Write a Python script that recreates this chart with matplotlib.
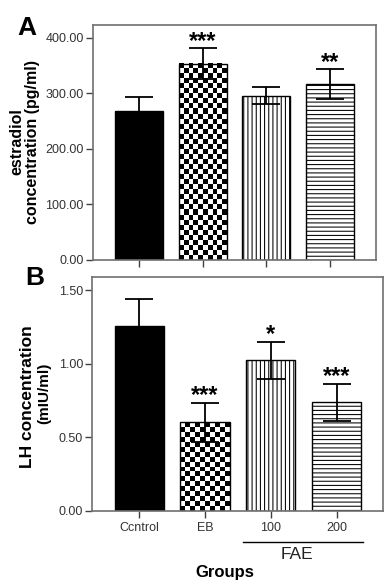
import numpy as np
import matplotlib.pyplot as plt
from matplotlib.transforms import blended_transform_factory

plt.rcParams['font.family'] = ['Liberation Sans', 'DejaVu Sans']
plt.rcParams['hatch.linewidth'] = 0.75

# values
groups = ['Ccntrol', 'EB', '100', '200']
e2_mean = [269, 353, 296, 316]
e2_err = [25, 28, 15, 27]
e2_stars = ['', '***', '', '**']
lh_mean = [1.256, 0.602, 1.023, 0.738]
lh_err = [0.185, 0.133, 0.125, 0.126]
lh_stars = ['', '***', '*', '***']

e2_ticks = [0, 100, 200, 300, 400]
lh_ticks = [0, 0.5, 1.0, 1.5]

fills = ['solid', 'checker', '||||', '----']


def checker_fill(ax, bar, cell=5):
    '''
    Fills a bar with a black/white checkerboard, cells of about `cell` pixels
    '''
    x0, y0 = bar.get_x(), bar.get_y()
    x1, y1 = x0 + bar.get_width(), y0 + bar.get_height()
    p0 = ax.transData.transform((x0, y0))
    p1 = ax.transData.transform((x1, y1))
    nx = max(1, int(round(abs(p1[0] - p0[0]) / cell)))
    ny = max(1, int(round(abs(p1[1] - p0[1]) / cell)))
    board = np.indices((ny, nx)).sum(axis=0) % 2
    ax.imshow(board, cmap='gray', extent=(x0, x1, y0, y1), origin='lower',
              aspect='auto', interpolation='nearest', zorder=1.5)


def draw_panel(ax, means, errs, stars, ticks, ylim, xlim):
    x = np.arange(len(means))
    ax.set_xlim(*xlim)
    ax.set_ylim(*ylim)
    bars = ax.bar(x, means, width=0.75, color='white', edgecolor='black',
                  linewidth=1.0, zorder=2)
    for bar, f in zip(bars, fills):
        if f == 'solid':
            bar.set_facecolor('black')
        elif f == 'checker':
            bar.set_facecolor('none')
            checker_fill(ax, bar)
        else:
            bar.set_hatch(f)
    ax.set_xlim(*xlim)
    ax.set_ylim(*ylim)
    ax.errorbar(x, means, yerr=errs, fmt='none', ecolor='black',
                elinewidth=1.3, capsize=10, capthick=1.3, zorder=3)
    for i, s in enumerate(stars):
        if s:
            ax.annotate(s, (x[i], means[i] + errs[i]), xytext=(0, 0.5),
                        textcoords='offset points', ha='center', va='baseline',
                        fontsize=17, fontweight='bold', annotation_clip=False)
    ax.set_xticks(x)
    ax.set_yticks(ticks)
    ax.set_yticklabels(['%.2f' % t for t in ticks])
    for sp in ax.spines.values():
        sp.set_color('#707070')
        sp.set_linewidth(1.2)
    ax.tick_params(direction='out', length=5, width=1, color='#404040',
                   labelsize=9, labelcolor='#333333')
    ax.tick_params(axis='y', pad=1.5)
    return x


fig = plt.figure(figsize=(3.9, 5.87), dpi=100)
ax_a = fig.add_axes([0.2377, 0.5571, 0.7264, 0.4003])
ax_b = fig.add_axes([0.2359, 0.1295, 0.7450, 0.3986])

draw_panel(ax_a, e2_mean, e2_err, e2_stars, e2_ticks, (0, 423), (-0.727, 3.722))
ax_a.tick_params(axis='x', labelbottom=False)

x = draw_panel(ax_b, lh_mean, lh_err, lh_stars, lh_ticks, (0, 1.589), (-0.72, 3.70))
ax_b.set_xticklabels(groups)
ax_b.tick_params(axis='x', pad=3)

# FAE bracket under the last two groups
trans = blended_transform_factory(ax_b.transData, ax_b.transAxes)
ax_b.plot([1.57, 3.41], [-0.1325, -0.1325], transform=trans, color='black',
          lw=1.0, clip_on=False)
ax_b.text(2.39, -0.184, 'FAE', transform=trans, ha='center', va='center',
          fontsize=12.5, color='#222222')

# axis titles
fig.text(0.0436, 0.758, 'estradiol', rotation=90, ha='center', va='center',
         fontsize=11.5, fontweight='bold')
fig.text(0.083, 0.758, 'concentration (pg/ml)', rotation=90, ha='center',
         va='center', fontsize=11.5, fontweight='bold')
fig.text(0.0705, 0.3245, 'LH concentration', rotation=90, ha='center',
         va='center', fontsize=12.5, fontweight='bold')
fig.text(0.1128, 0.3296, '(mIU/ml)', rotation=90, ha='center', va='center',
         fontsize=11, fontweight='bold')
fig.text(0.577, 0.0239, 'Groups', ha='center', va='center', fontsize=12,
         fontweight='bold')

fig.text(0.069, 0.952, 'A', ha='center', va='center', fontsize=19,
         fontweight='bold')
fig.text(0.0897, 0.526, 'B', ha='center', va='center', fontsize=19,
         fontweight='bold')

fig.savefig('out.png', dpi=100)
